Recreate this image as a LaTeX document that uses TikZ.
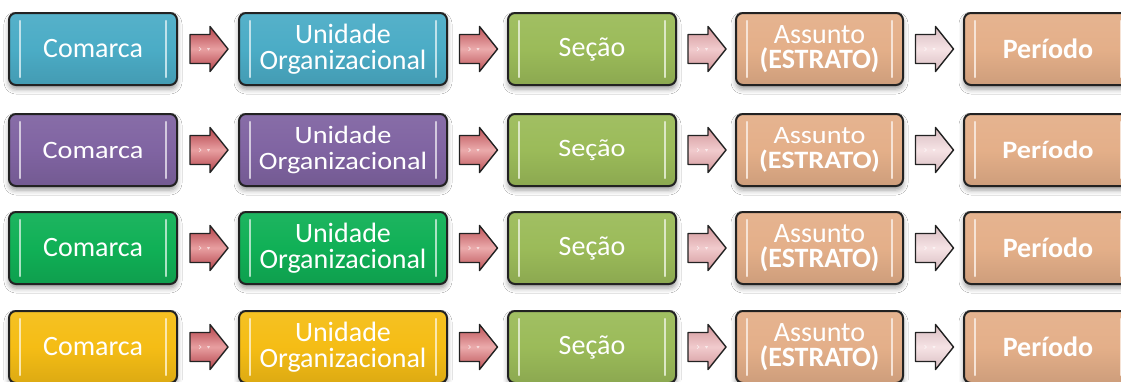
\documentclass[tikz,border=0pt]{standalone}
\usepackage{fontspec}
\setmainfont{Carlito}
\usepackage{graphicx}
\usetikzlibrary{calc,shadows.blur}

\definecolor{cteal}{HTML}{4BACC6}
\definecolor{cpurple}{HTML}{8064A2}
\definecolor{cgreen}{HTML}{10B056}
\definecolor{cyellow}{HTML}{F5BD15}
\definecolor{colive}{HTML}{9BBB59}
\definecolor{ctan}{HTML}{E4AF89}
\definecolor{boxline}{HTML}{222222}
\definecolor{ar1}{HTML}{B3434A}
\definecolor{ar1l}{HTML}{E89FA1}
\definecolor{ar2}{HTML}{BC5257}
\definecolor{ar2l}{HTML}{EBABAC}
\definecolor{ar3}{HTML}{D2979B}
\definecolor{ar3l}{HTML}{F1CBCD}
\definecolor{ar4}{HTML}{D8BDC1}
\definecolor{ar4l}{HTML}{F6E3E5}

\newcommand\rowfont{\fontsize{28}{25}\selectfont}
\newcommand\rowstretch{1}
\newcommand\st[1]{\scalebox{\rowstretch}[1]{#1}}

\tikzset{
  box/.style={draw=boxline, line width=2pt, rounded corners=7pt,
    minimum height=72pt, inner sep=0pt, text=white, align=center,
    font=\rowfont,
    blur shadow={shadow xshift=0pt, shadow yshift=-4pt,
      shadow blur radius=5pt, shadow opacity=40}},
  boxfill/.style={top color=#1!94!white, bottom color=#1!90!black, middle color=#1},
  hl/.style={line width=2.2pt, line cap=round},
  arrline/.style={draw=boxline, line width=1.4pt, line join=round},
  pics/blockarrow/.style 2 args={code={
    \path[arrline, top color=#1, bottom color=#1, middle color=#2]
      (-18,-14.5) -- (2,-14.5) -- (2,-22.5) -- (20,0) -- (2,22.5)
      -- (2,14.5) -- (-18,14.5) -- cycle;
    \draw[white, opacity=.6, line width=.7pt] (-9,-1.8) -- (-7,0) -- (-9,1.8);
    \fill[white, opacity=.6] (-1,-0.8) -- (2,-0.8) -- (0.5,1.6) -- cycle;
  }}
}

\newcommand\mkhl[2]{%
  \draw[hl, draw=#2!35!white] ($(#1.north west)+(12,9)$) -- ($(#1.south west)+(12,-9)$);
  \draw[hl, draw=#2!35!white] ($(#1.north east)+(-12,9)$) -- ($(#1.south east)+(-12,-9)$);
}

\newcommand\diagrow[5]{%
  \renewcommand\rowfont{\fontsize{#4}{25.5}\selectfont}%
  \renewcommand\rowstretch{#5}%
  \node[box, boxfill=#3, minimum width=168pt] (c#1) at (93,#2) {\st{Comarca}};
  \node[box, boxfill=#3, minimum width=208pt] (u#1) at (343,#2) {\st{Unidade}\\\st{Organizacional}};
  \node[box, boxfill=colive, minimum width=168pt] (s#1) at (592,#2) {\st{Seção}};
  \node[box, boxfill=ctan, minimum width=167pt] (a#1) at (819.5,#2) {\st{Assunto}\\\st{\bfseries(ESTRATO)}};
  \node[box, boxfill=ctan, minimum width=168pt] (p#1) at (1048,#2) {\st{\bfseries Período}};
  \mkhl{c#1}{#3}\mkhl{u#1}{#3}\mkhl{s#1}{colive}\mkhl{a#1}{ctan}\mkhl{p#1}{ctan}
  \path ($(c#1.east)!.5!(u#1.west)$) pic {blockarrow={ar1}{ar1l}};
  \path ($(u#1.east)!.5!(s#1.west)$) pic {blockarrow={ar2}{ar2l}};
  \path ($(s#1.east)!.5!(a#1.west)$) pic {blockarrow={ar3}{ar3l}};
  \path ($(a#1.east)!.5!(p#1.west)$) pic {blockarrow={ar4}{ar4l}};
}

\begin{document}
\begin{tikzpicture}[x=1pt, y=-1pt]
  \useasboundingbox (0,0) rectangle (1121,381);
  \fill[white] (0,0) rectangle (1121,381);
  \clip (0,0) rectangle (1121,381);
  \diagrow{1}{49}{cteal}{28}{1}
  \diagrow{2}{150}{cpurple}{25}{1.13}
  \diagrow{3}{248}{cgreen}{28}{1}
  \diagrow{4}{347}{cyellow}{28}{1}
\end{tikzpicture}
\end{document}
